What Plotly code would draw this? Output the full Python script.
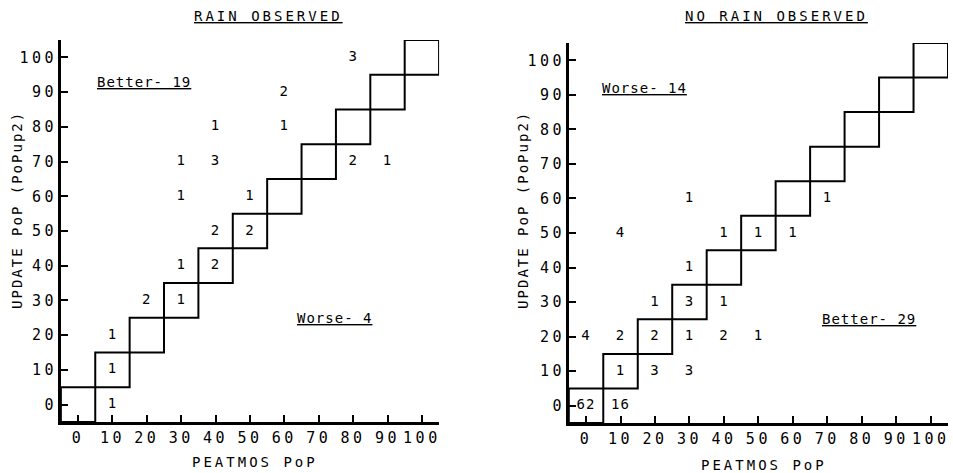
import plotly.graph_objects as go

# ---------------- data ----------------
ticks = [0, 10, 20, 30, 40, 50, 60, 70, 80, 90, 100]
diag = [0, 10, 20, 30, 40, 50, 60, 70, 80, 90, 100]

# Rain observed: (PEATMOS PoP, UPDATE PoP, count)
rain_x = [10, 10, 10, 20, 30, 30, 40, 40, 50, 30, 50, 30, 40, 40, 60, 60, 80, 90, 80]
rain_y = [0, 10, 20, 30, 30, 40, 40, 50, 50, 60, 60, 70, 70, 80, 80, 90, 70, 70, 100]
rain_n = [1, 1, 1, 2, 1, 1, 2, 2, 2, 1, 1, 1, 3, 1, 1, 2, 2, 1, 3]

# No rain observed
dry_x = [0, 10, 10, 20, 30, 0, 10, 20, 30, 40, 50, 20, 30, 40, 30, 10, 40, 50, 60, 30, 70]
dry_y = [0, 0, 10, 10, 10, 20, 20, 20, 20, 20, 20, 30, 30, 30, 40, 50, 50, 50, 50, 60, 60]
dry_n = [62, 16, 1, 3, 3, 4, 2, 2, 1, 2, 1, 1, 3, 1, 1, 4, 1, 1, 1, 1, 1]

panel_titles = ["RAIN OBSERVED", "NO RAIN OBSERVED"]
upper_labels = ["Better- 19", "Worse- 14"]
lower_labels = ["Worse- 4", "Better- 29"]
x_title = "PEATMOS PoP"
y_title = "UPDATE PoP (PoPup2)"

FONT = "DejaVu Sans Mono"
INK = "black"

W, H = 953, 473


def px(x):
    return x / W


def py(y):
    return 1 - y / H


def spaced(t, sp=3):
    return f'<span style="letter-spacing:{sp}px">{t}</span>'


fig = go.Figure()

panels = [
    dict(xs=rain_x, ys=rain_y, ns=rain_n, xa="x", ya="y"),
    dict(xs=dry_x, ys=dry_y, ns=dry_n, xa="x2", ya="y2"),
]

for p in panels:
    # staircase of squares along the diagonal
    sx, sy = [], []
    for c in diag:
        sx += [c - 5, c + 5, c + 5, c - 5, c - 5, None]
        sy += [c - 5, c - 5, c + 5, c + 5, c - 5, None]
    fig.add_trace(go.Scatter(x=sx, y=sy, mode="lines", xaxis=p["xa"], yaxis=p["ya"],
                             line=dict(color=INK, width=2), hoverinfo="skip",
                             showlegend=False, cliponaxis=False))
    fig.add_trace(go.Scatter(x=p["xs"], y=p["ys"], mode="text", xaxis=p["xa"], yaxis=p["ya"],
                             text=[spaced(str(n), 1) for n in p["ns"]],
                             textfont=dict(family=FONT, size=14, color=INK),
                             textposition="middle center", showlegend=False))

ax_common = dict(range=[-5, 105], tickvals=ticks,
                 ticktext=[spaced(str(t), 3.5) for t in ticks],
                 ticks="inside", ticklen=7, tickwidth=1.5, tickcolor=INK,
                 showline=True, linewidth=2.5, linecolor=INK, showgrid=False,
                 zeroline=False, tickfont=dict(family=FONT, size=15, color=INK),
                 fixedrange=True)

fig.update_layout(
    width=W, height=H,
    margin=dict(l=0, r=0, t=0, b=0),
    paper_bgcolor="white", plot_bgcolor="white",
    xaxis=dict(domain=[px(61), px(440)], anchor="y", **ax_common),
    yaxis=dict(domain=[py(422), py(40)], anchor="x", ticklabelstandoff=-2, **ax_common),
    xaxis2=dict(domain=[px(570), px(950)], anchor="y2", **ax_common),
    yaxis2=dict(domain=[py(423), py(43)], anchor="x2", ticklabelstandoff=-2, **ax_common),
)

ann = []
# panel titles
for t, xc in zip(panel_titles, [269, 778]):
    ann.append(dict(text=spaced(t, 3), x=px(xc), y=py(16), xref="paper", yref="paper",
                    showarrow=False, xanchor="center", yanchor="middle",
                    font=dict(family=FONT, size=14, color=INK, lineposition="under")))
# x titles
for xc, yc in [(256, 462), (766, 465)]:
    ann.append(dict(text=spaced(x_title, 3), x=px(xc), y=py(yc), xref="paper", yref="paper",
                    showarrow=False, xanchor="center", yanchor="middle",
                    font=dict(family=FONT, size=14, color=INK)))
# y titles
for xc in [17, 524]:
    ann.append(dict(text=spaced(y_title, 2), x=px(xc), y=py(210), xref="paper", yref="paper",
                    showarrow=False, xanchor="center", yanchor="middle", textangle=-90,
                    font=dict(family=FONT, size=14, color=INK)))
# better / worse labels
upper_pos = [(5, 93), (4, 92)]
for i, (xa, ya) in enumerate([("x", "y"), ("x2", "y2")]):
    ann.append(dict(text=spaced(upper_labels[i], 1), x=upper_pos[i][0], y=upper_pos[i][1],
                    xref=xa, yref=ya, showarrow=False, xanchor="left", yanchor="middle",
                    font=dict(family=FONT, size=14, color=INK, lineposition="under")))
lower_pos = [(63, 25), (68, 25)]
for i, (xa, ya) in enumerate([("x", "y"), ("x2", "y2")]):
    ann.append(dict(text=spaced(lower_labels[i], 1), x=lower_pos[i][0], y=lower_pos[i][1],
                    xref=xa, yref=ya, showarrow=False, xanchor="left", yanchor="middle",
                    font=dict(family=FONT, size=14, color=INK, lineposition="under")))
fig.update_layout(annotations=ann)

# remove the default page margin so the figure fills the window exactly
fig.write_html("out.html", config={"displayModeBar": False},
               post_script="document.body.style.margin='0';document.body.style.overflow='hidden';")
